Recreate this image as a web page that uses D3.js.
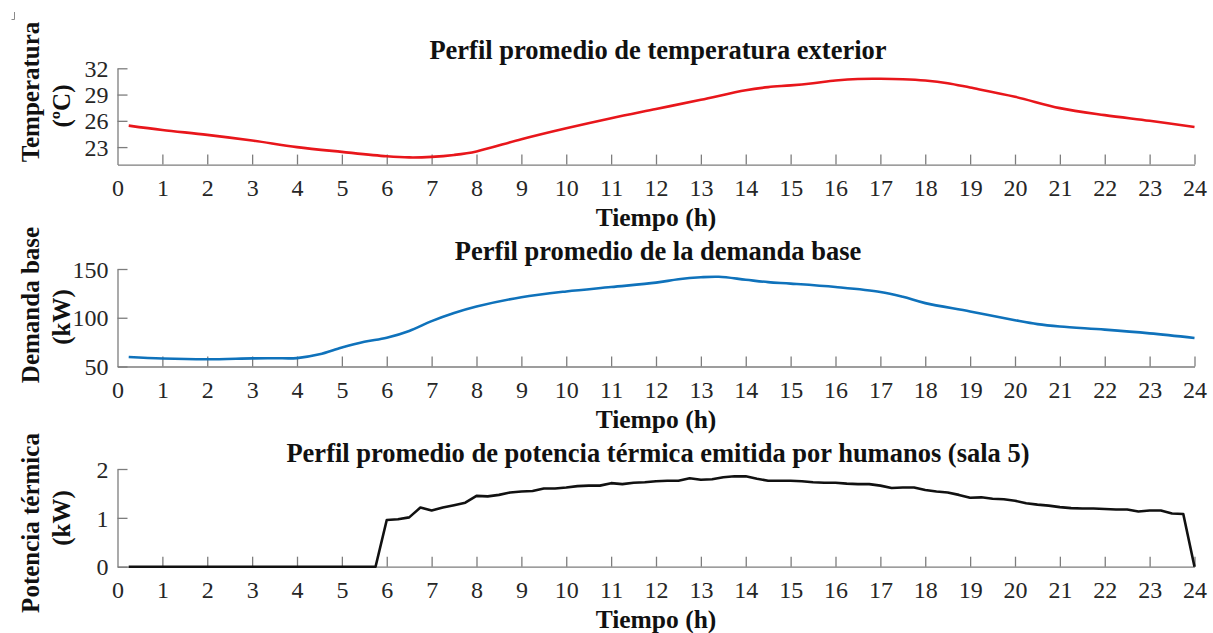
<!DOCTYPE html>
<html>
<head>
<meta charset="utf-8">
<script src="https://cdn.jsdelivr.net/npm/d3@7"></script>
<style>
  html, body { margin: 0; padding: 0; background: #fff; }
  svg { display: block; }
</style>
</head>
<body>
<svg id="chart" width="1213" height="633"></svg>
<script>
// Hour ticks shared by the three panels
const hourTicks = d3.range(0, 25);

// Outdoor temperature profile (ºC)
const tempHours  = [0.25, 1, 2, 3, 4, 5, 6, 6.5, 7, 7.5, 8, 9, 10, 11, 12, 13, 14, 14.5, 15, 15.5, 16, 16.5, 17, 17.5, 18, 18.5, 19, 20, 21, 22, 23, 24];
const tempValues = [25.45, 24.95, 24.4, 23.75, 23.0, 22.45, 21.95, 21.82, 21.88, 22.1, 22.5, 23.9, 25.15, 26.3, 27.35, 28.4, 29.5, 29.85, 30.05, 30.3, 30.6, 30.78, 30.8, 30.75, 30.6, 30.3, 29.8, 28.75, 27.45, 26.65, 26.0, 25.3];
const tempTicks  = [23, 26, 29, 32];

// Base demand profile (kW)
const demandHours  = [0.25, 1, 2, 3, 3.5, 4, 4.5, 5, 5.5, 6, 6.5, 7, 7.5, 8, 9, 10, 11, 12, 12.5, 13, 13.4, 14, 14.5, 15, 16, 17, 17.5, 18, 19, 20, 20.5, 21, 22, 23, 24];
const demandValues = [59.8, 58.2, 57.4, 58.3, 58.5, 58.6, 62.5, 69.5, 75.3, 79.5, 86.5, 96.5, 104.8, 111.5, 121, 127, 131.5, 136, 139.5, 141.5, 142, 139, 136.5, 135, 131.5, 126.5, 121.5, 115, 106.5, 97.5, 93.5, 91, 87.8, 84, 79.3];
const demandTicks  = [50, 100, 150];

// Heat emitted by occupants, room 5 (kW), one value per quarter hour from 0.25 h to 24 h
const heatValues = [
  0, 0, 0, 0, 0, 0, 0, 0, 0, 0, 0, 0, 0, 0, 0, 0, 0, 0, 0, 0, 0, 0, 0,
  0.955, 0.97, 1.01, 1.21, 1.15, 1.21, 1.26, 1.31,
  1.45, 1.44, 1.47, 1.52, 1.54, 1.55, 1.60, 1.60,
  1.62, 1.65, 1.66, 1.66, 1.71, 1.69, 1.72, 1.73,
  1.75, 1.76, 1.76, 1.81, 1.78, 1.79, 1.83, 1.85,
  1.85, 1.80, 1.76, 1.76, 1.76, 1.75, 1.73, 1.72,
  1.72, 1.70, 1.69, 1.69, 1.66, 1.61, 1.62, 1.62,
  1.57, 1.54, 1.52, 1.47, 1.41, 1.42, 1.39, 1.38,
  1.35, 1.30, 1.27, 1.25, 1.22, 1.20, 1.19, 1.19,
  1.18, 1.17, 1.17, 1.13, 1.15, 1.15, 1.09, 1.08,
  0
];
const heatHours = heatValues.map((_, i) => (i + 1) * 0.25);
const heatTicks = [0, 1, 2];

const FONT = "'Liberation Serif', 'Times New Roman', Times, serif";
const AXIS_COLOR = "#7d7d7d";
const LABEL_COLOR = "#262626";

const svg = d3.select("#chart");
svg.append("rect").attr("width", 1213).attr("height", 633).attr("fill", "#fff");

// small corner mark in the top-left
svg.append("path")
  .attr("d", "M14.5,12 L14.5,19.5 L11.5,19.5")
  .attr("fill", "none").attr("stroke", "#8a8a8a").attr("stroke-width", 1);

const x = d3.scaleLinear().domain([0, 24]).range([117.5, 1194.5]);

const panels = [
  {
    title: "Perfil promedio de temperatura exterior",
    yLabel: ["Temperatura", "(ºC)"], yLabelCenters: [92, 106],
    hours: tempHours, values: tempValues, ticks: tempTicks,
    domain: [21, 32], top: 68.3, bottom: 164.6,
    color: "#e8161b", curve: d3.curveCatmullRom.alpha(0.5),
    titleY: 59
  },
  {
    title: "Perfil promedio de la demanda base",
    yLabel: ["Demanda base", "(kW)"], yLabelCenters: [305, 317],
    hours: demandHours, values: demandValues, ticks: demandTicks,
    domain: [50, 150], top: 269, bottom: 366.5,
    color: "#0f72bb", curve: d3.curveCatmullRom.alpha(0.5),
    titleY: 259.5
  },
  {
    title: "Perfil promedio de potencia térmica emitida por humanos (sala 5)",
    yLabel: ["Potencia térmica", "(kW)"], yLabelCenters: [523, 518],
    hours: heatHours, values: heatValues, ticks: heatTicks,
    domain: [0, 2], top: 469, bottom: 566.7,
    color: "#111", curve: d3.curveLinear,
    titleY: 461.5
  }
];

panels.forEach(p => {
  const y = d3.scaleLinear().domain(p.domain).range([p.bottom, p.top]);
  const g = svg.append("g");

  // x axis with inward ticks
  const xAxis = d3.axisBottom(x).tickValues(hourTicks).tickFormat(d3.format("d"))
    .tickSizeInner(-10).tickSizeOuter(0).tickPadding(0);
  const gx = g.append("g").attr("transform", `translate(0,${p.bottom})`).call(xAxis);
  gx.select(".domain").attr("stroke", AXIS_COLOR).attr("stroke-width", 1.3);
  gx.selectAll(".tick line").attr("stroke", AXIS_COLOR).attr("stroke-width", 1.3)
    .attr("display", d => d === 0 ? "none" : null);
  gx.selectAll(".tick text")
    .attr("y", 31).attr("dy", null)
    .attr("font-family", FONT).attr("font-size", 24).attr("fill", LABEL_COLOR);

  // y axis with inward ticks
  const yAxis = d3.axisLeft(y).tickValues(p.ticks).tickFormat(d3.format("d"))
    .tickSizeInner(-10).tickSizeOuter(0).tickPadding(0);
  const gy = g.append("g").attr("transform", `translate(${x(0)},0)`).call(yAxis);
  gy.select(".domain").attr("stroke", AXIS_COLOR).attr("stroke-width", 1.3);
  gy.selectAll(".tick line").attr("stroke", AXIS_COLOR).attr("stroke-width", 1.3);
  gy.selectAll(".tick text")
    .attr("x", -9).attr("dy", "0.34em")
    .attr("font-family", FONT).attr("font-size", 24).attr("fill", LABEL_COLOR);

  // series line
  const line = d3.line()
    .x((d, i) => x(p.hours[i]))
    .y(d => y(d))
    .curve(p.curve);
  g.append("path")
    .datum(p.values)
    .attr("d", line)
    .attr("fill", "none")
    .attr("stroke", p.color)
    .attr("stroke-width", 2.6)
    .attr("stroke-linejoin", "round");

  // title
  g.append("text")
    .attr("x", (x(0) + x(24)) / 2 + 2).attr("y", p.titleY)
    .attr("text-anchor", "middle")
    .attr("font-family", FONT).attr("font-size", 26.5).attr("font-weight", "bold")
    .attr("fill", "#111")
    .text(p.title);

  // x label
  g.append("text")
    .attr("x", (x(0) + x(24)) / 2).attr("y", p.bottom + 61)
    .attr("text-anchor", "middle")
    .attr("font-family", FONT).attr("font-size", 25.5).attr("font-weight", "bold")
    .attr("fill", "#111")
    .text("Tiempo (h)");

  // y label, two rotated lines
  const baselines = [39, 70];
  p.yLabel.forEach((txt, i) => {
    g.append("text")
      .attr("transform", `translate(${baselines[i]},${p.yLabelCenters[i]}) rotate(-90)`)
      .attr("text-anchor", "middle")
      .attr("font-family", FONT).attr("font-size", 25).attr("font-weight", "bold")
      .attr("fill", "#111")
      .text(txt);
  });
});
</script>
</body>
</html>
